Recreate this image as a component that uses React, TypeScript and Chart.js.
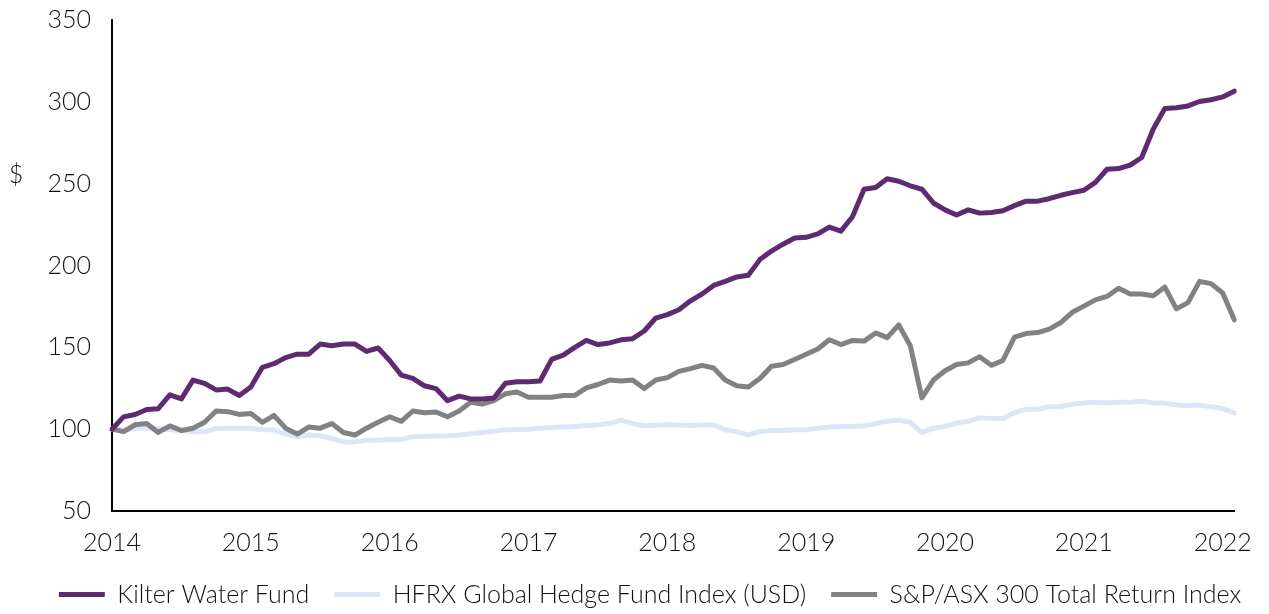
import React, { useEffect, useRef } from 'react';
import { Chart, registerables } from 'chart.js';

Chart.register(...registerables);

const years = ['2014', '2015', '2016', '2017', '2018', '2019', '2020', '2021', '2022'];
const monthCodes = ['01', '02', '03', '04', '05', '06', '07', '08', '09', '10', '11', '12'];
const pointCount = 98;

const categories: string[] = [];
for (const y of years) {
  for (const m of monthCodes) {
    if (categories.length < pointCount) categories.push(`${y}-${m}`);
  }
}

const kilter = [
  100, 107.5, 109, 112, 112.5, 121, 118.5, 130, 128, 124, 124.5, 120.6,
  125.8, 137.8, 140, 143.7, 145.8, 145.8, 152, 151, 152, 152, 147.5, 149.6,
  142, 133, 131, 126.5, 124.8, 117.4, 120.2, 118.5, 118.5, 119, 128, 129,
  129, 129.4, 142.6, 145.2, 150, 154.2, 151.7, 152.7, 154.6, 155.3, 160, 167.9,
  170, 173, 178.4, 182.6, 187.8, 190.3, 193, 194, 203.6, 208.8, 213, 216.8,
  217.2, 219.3, 223.5, 221, 229.8, 246.6, 247.7, 253, 251.5, 248.7, 246.6, 238.2,
  234, 230.9, 234, 232, 232.4, 233.4, 236.6, 239.3, 239.3, 240.8, 242.9, 244.5,
  246, 250.8, 258.8, 259.2, 261.3, 266, 283.4, 296, 296.4, 297.5, 300.2, 301.3,
  303, 306.5,
];

const hfrx = [
  100, 99.5, 100.5, 100.6, 100.4, 99.6, 99, 98.5, 98.5, 100.4, 100.6, 100.6,
  100.6, 99.6, 99.6, 97, 95.4, 96.4, 96, 94.3, 92.2, 92.2, 93.3, 93.3,
  93.7, 93.7, 95.4, 95.6, 95.8, 96, 96.4, 97.2, 97.9, 98.8, 99.6, 99.8,
  100, 100.5, 101, 101.3, 101.7, 102.2, 102.7, 103.4, 105.5, 103.4, 102.1, 102.4,
  102.7, 102.5, 102.3, 102.5, 102.7, 99.6, 98.5, 96.4, 98.5, 99.2, 99.2, 99.6,
  99.6, 100.6, 101.3, 101.7, 101.7, 102.1, 103.4, 104.8, 105.5, 104.2, 97.9, 100.6,
  101.7, 103.8, 104.8, 106.9, 106.5, 106.5, 110, 112.2, 112.2, 113.7, 113.7, 115.3,
  116, 116.4, 116, 116.4, 116.4, 117, 116, 116, 114.7, 114.3, 114.7, 113.7,
  112.6, 110,
];

const asx300 = [
  100, 98.5, 102.7, 103.4, 98, 102, 99.2, 100.6, 104.2, 111.1, 110.7, 109,
  109.5, 104.2, 108.4, 100.6, 97, 101.3, 100.6, 103.4, 98, 96.4, 100.6, 104.2,
  107.6, 104.8, 111.1, 110, 110.5, 107.6, 111.1, 116.4, 115.3, 117.4, 121.6, 122.7,
  119.5, 119.5, 119.5, 120.6, 120.6, 125.2, 127.3, 130, 129.4, 130, 124.8, 130,
  131.5, 135.3, 137, 139, 137.4, 130, 126.5, 125.8, 131, 138.4, 139.5, 142.6,
  145.8, 149, 154.6, 151.7, 154.2, 153.8, 158.8, 155.9, 163.7, 151, 119.1, 130,
  135.7, 139.5, 140.5, 144.3, 139, 142, 156.3, 158.4, 159, 161.1, 165.1, 171.4,
  175.2, 179, 181.1, 186.1, 182.6, 182.6, 181.5, 186.8, 173.5, 177.3, 190.3, 188.9,
  183.2, 166.8,
];

const yTicks = [50, 100, 150, 200, 250, 300, 350];
const seriesNames = [
  'Kilter Water Fund',
  'HFRX Global Hedge Fund Index (USD)',
  'S&P/ASX 300 Total Return Index',
];
const seriesColors = ['#5E2B70', '#DDE6F5', '#828282'];

const FONT = 'Lato, "Open Sans", sans-serif';
const LEGEND_SHIFT = 30;

const dollarPlugin = {
  id: 'dollarLabel',
  afterDraw(chart: any) {
    const ctx = chart.ctx;
    ctx.save();
    ctx.font = `300 25px ${FONT}`;
    ctx.fillStyle = '#111';
    ctx.textAlign = 'center';
    ctx.textBaseline = 'middle';
    ctx.fillText('$', 16, 175);
    ctx.restore();
  },
};

const legendShiftPlugin = {
  id: 'legendShift',
  afterLayout(chart: any) {
    const lg = chart.legend;
    if (lg) {
      lg.left += LEGEND_SHIFT;
      lg.right += LEGEND_SHIFT;
    }
  },
};

export default function App() {
  const canvasRef = useRef<HTMLCanvasElement | null>(null);

  useEffect(() => {
    if (!canvasRef.current) return;
    const values = [kilter, hfrx, asx300];
    const orders = [0, 2, 1];
    const chart = new Chart(canvasRef.current, {
      type: 'line',
      data: {
        labels: categories,
        datasets: seriesNames.map((name, i) => ({
          label: name,
          data: values[i],
          borderColor: seriesColors[i],
          backgroundColor: seriesColors[i],
          borderWidth: 5,
          pointRadius: 0,
          pointHoverRadius: 0,
          pointStyle: 'line',
          tension: 0,
          borderCapStyle: 'round',
          borderJoinStyle: 'round',
          order: orders[i],
        })),
      },
      options: {
        animation: false,
        responsive: true,
        maintainAspectRatio: false,
        layout: { padding: { left: 0, right: 29, top: 20, bottom: -3 } },
        plugins: {
          tooltip: { enabled: false },
          legend: {
            position: 'bottom',
            labels: {
              usePointStyle: true,
              pointStyleWidth: 46,
              padding: 25,
              color: '#111',
              font: { family: FONT, size: 25, weight: '300' },
              sort: (a: any, b: any) => a.datasetIndex - b.datasetIndex,
            },
          },
        },
        scales: {
          x: {
            type: 'category',
            grid: { display: false, drawTicks: false },
            border: { display: true, color: '#000', width: 2 },
            ticks: {
              autoSkip: false,
              maxRotation: 0,
              minRotation: 0,
              padding: 17,
              color: '#111',
              font: { family: FONT, size: 25, weight: '300' },
              callback: (_v: any, index: number) => {
                const lab = categories[index];
                return lab && lab.endsWith('-01') ? lab.slice(0, 4) : null;
              },
            },
            afterFit: (s: any) => {
              s.height = 46;
            },
          },
          y: {
            min: 50,
            max: 350,
            grid: { display: false, drawTicks: false },
            border: { display: true, color: '#000', width: 2 },
            afterBuildTicks: (s: any) => {
              s.ticks = yTicks.map((v) => ({ value: v }));
            },
            ticks: {
              padding: 21,
              color: '#111',
              font: { family: FONT, size: 25, weight: '300' },
            },
            afterFit: (s: any) => {
              s.width = 112;
              s.paddingTop = 0;
              s.paddingBottom = 0;
            },
          },
        },
      },
      plugins: [dollarPlugin, legendShiftPlugin],
    } as any);
    return () => chart.destroy();
  }, []);

  return (
    <div style={{ position: 'fixed', left: 0, top: 0, width: 1269, height: 614 }}>
      <canvas ref={canvasRef} />
    </div>
  );
}
